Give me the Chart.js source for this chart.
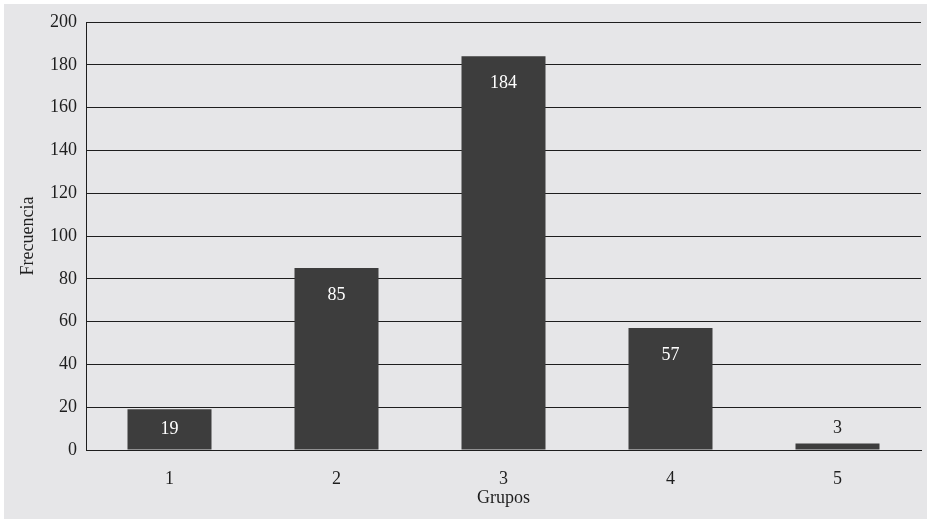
<!DOCTYPE html>
<html>
<head>
<meta charset="utf-8">
<script src="https://cdn.jsdelivr.net/npm/chart.js@4"></script>
<style>
  html, body { margin: 0; padding: 0; background: #ffffff; }
  #wrap { position: absolute; left: 4px; top: 4px; width: 923px; height: 515px; background: #e6e6e8; }
  canvas { display: block; }
</style>
</head>
<body>
<div id="wrap"><canvas id="c" width="923" height="515"></canvas></div>
<script>
const categories = ['1', '2', '3', '4', '5'];
const frecuencias = [19, 85, 184, 57, 3];
const yTicks = [0, 20, 40, 60, 80, 100, 120, 140, 160, 180, 200];
const xTitle = 'Grupos';
const yTitle = 'Frecuencia';

const FONT = 'Liberation Serif';
const INK = '#1e1e1e';

const valueLabels = {
  id: 'valueLabels',
  afterDatasetsDraw(chart) {
    const ctx = chart.ctx;
    const meta = chart.getDatasetMeta(0);
    ctx.save();
    ctx.font = '18px "' + FONT + '"';
    ctx.textAlign = 'center';
    ctx.textBaseline = 'middle';
    meta.data.forEach((bar, i) => {
      const h = bar.base - bar.y;
      let y, col;
      if (h > 24) {
        y = bar.y + Math.min(27, h / 2);
        col = '#ffffff';
      } else {
        y = bar.y - 15;
        col = INK;
      }
      ctx.fillStyle = col;
      ctx.fillText(String(frecuencias[i]), bar.x, y);
    });
    ctx.restore();
  }
};

new Chart(document.getElementById('c'), {
  type: 'bar',
  data: {
    labels: categories,
    datasets: [{
      data: frecuencias,
      backgroundColor: '#3d3d3d',
      borderWidth: 0,
      categoryPercentage: 1,
      barPercentage: 0.503
    }]
  },
  options: {
    responsive: false,
    animation: false,
    devicePixelRatio: 1,
    layout: { padding: { left: 13, top: 16, right: 6, bottom: 0 } },
    plugins: { legend: { display: false }, tooltip: { enabled: false } },
    scales: {
      x: {
        grid: { display: false, drawTicks: false },
        border: { display: true, color: INK, width: 1 },
        ticks: { color: INK, font: { family: FONT, size: 18 }, padding: 18 },
        title: { display: true, text: xTitle, color: INK, font: { family: FONT, size: 18 }, padding: { top: 0, bottom: 10 } },
        afterFit(s) { s.height = 69; }
      },
      y: {
        min: 0, max: 200,
        afterBuildTicks(s) { s.ticks = yTicks.map(v => ({ value: v })); },
        grid: { color: INK, lineWidth: 1, drawTicks: false },
        border: { display: true, color: INK, width: 1 },
        ticks: { color: INK, font: { family: FONT, size: 18, lineHeight: 1 }, padding: 9 },
        title: { display: true, text: yTitle, color: INK, font: { family: FONT, size: 18 }, padding: { top: 0, bottom: 8 } },
        afterFit(s) { s.width = 69; }
      }
    }
  },
  plugins: [valueLabels]
});
</script>
</body>
</html>
